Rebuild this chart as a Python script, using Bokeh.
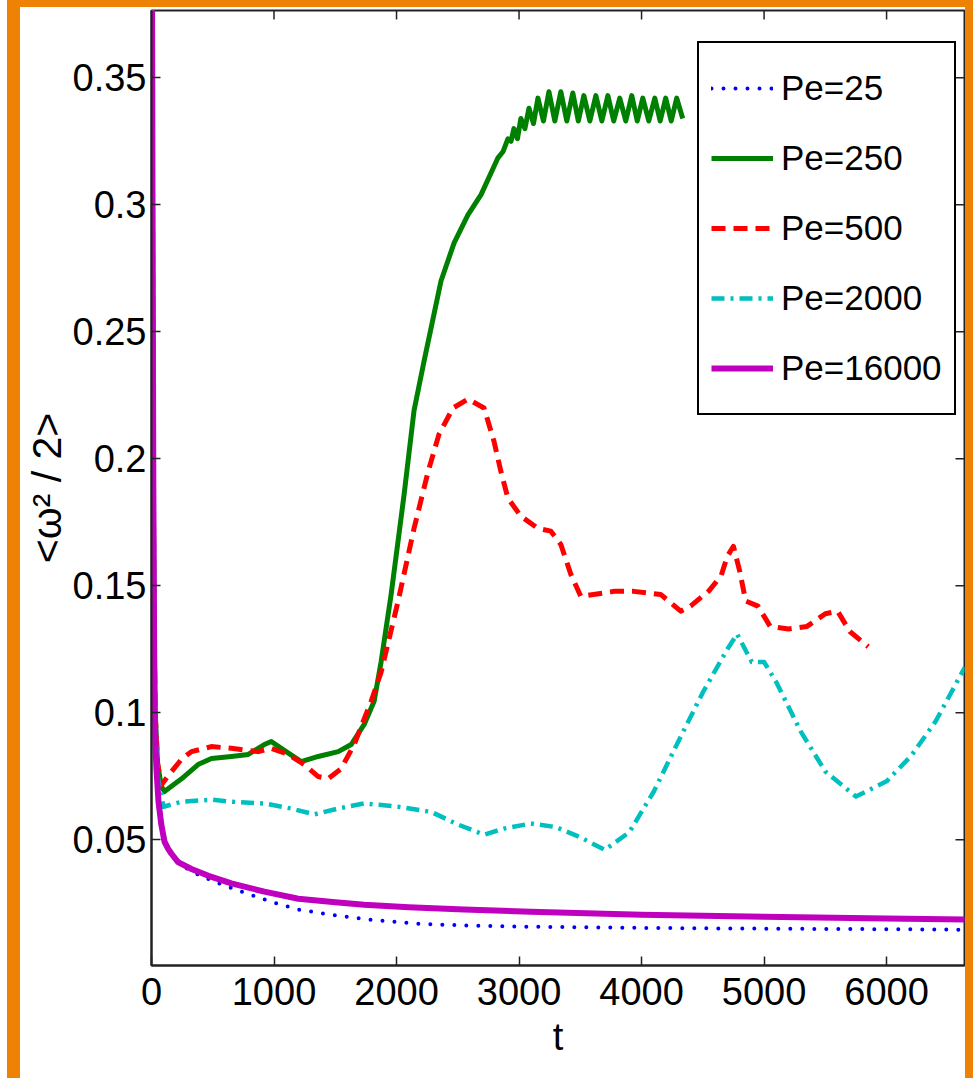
import math
from bokeh.plotting import figure
from bokeh.models import FixedTicker, Range1d, Legend, LegendItem, Spacer
from bokeh.layouts import row, column
from bokeh.embed import file_html
from bokeh.resources import INLINE

# ---------------- data ----------------
X_TICKS = [0, 1000, 2000, 3000, 4000, 5000, 6000]
Y_TICKS = [0.05, 0.1, 0.15, 0.2, 0.25, 0.3, 0.35]
Y_TICK_LABELS = ["0.05", "0.1", "0.15", "0.2", "0.25", "0.3", "0.35"]

t_pe25 = [0, 5, 10, 15, 20, 24, 32, 40, 57, 80, 106, 135, 163, 217, 326, 513, 733,
          978, 1198, 1467, 1793, 2176, 2551, 3040, 4000, 5000, 6000, 6640]
w_pe25 = [0.55, 0.37, 0.27, 0.19, 0.14, 0.1045, 0.088, 0.078, 0.065, 0.056, 0.0493,
          0.0465, 0.0445, 0.041, 0.0375, 0.0335, 0.0296, 0.0256, 0.0225, 0.0205,
          0.0185, 0.0169, 0.0163, 0.0158, 0.0153, 0.015, 0.0148, 0.0146]

t_pe250 = [0, 5, 10, 15, 20, 30, 50, 80, 106, 245, 380, 489, 652, 790, 921, 978,
           1059, 1222, 1361, 1524, 1630, 1736, 1817, 1874, 1956, 2062, 2143, 2225,
           2363, 2470, 2583, 2690, 2828, 2870, 2909, 2935, 2958, 2987, 3015, 3048,
           3081, 3118, 3154, 3199, 3244, 3292, 3341, 3390, 3439, 3484, 3529, 3578,
           3627, 3676, 3725, 3773, 3822, 3871, 3920, 3965, 4010, 4059, 4108, 4152,
           4197, 4242, 4287, 4336]
w_pe250 = [0.55, 0.37, 0.27, 0.19, 0.14, 0.1, 0.08, 0.071, 0.069, 0.074, 0.0796,
           0.082, 0.0828, 0.0836, 0.0875, 0.0887, 0.086, 0.0808, 0.0828, 0.0847,
           0.0875, 0.0954, 0.1045, 0.12, 0.1466, 0.186, 0.219, 0.2385, 0.27, 0.285,
           0.296, 0.304, 0.3185, 0.321, 0.326, 0.325, 0.330, 0.326, 0.334, 0.330,
           0.338, 0.332, 0.342, 0.333, 0.3445, 0.333, 0.3445, 0.333, 0.344, 0.333,
           0.343, 0.333, 0.343, 0.333, 0.343, 0.333, 0.342, 0.333, 0.343, 0.333,
           0.342, 0.333, 0.342, 0.333, 0.342, 0.333, 0.342, 0.334]

t_pe500 = [0, 5, 10, 15, 20, 30, 50, 81, 150, 250, 326, 489, 652, 872, 978, 1117,
           1247, 1361, 1443, 1548, 1654, 1793, 1874, 2013, 2143, 2258, 2347, 2461,
           2583, 2714, 2795, 2852, 2909, 3015, 3154, 3260, 3341, 3423, 3504, 3773,
           3936, 4156, 4320, 4400, 4550, 4650, 4700, 4750, 4800, 4850, 4950, 5050,
           5200, 5350, 5500, 5600, 5700, 5850]
w_pe500 = [0.55, 0.37, 0.27, 0.19, 0.14, 0.1, 0.08, 0.0717, 0.076, 0.082, 0.0847,
           0.0867, 0.086, 0.0847, 0.086, 0.0836, 0.0796, 0.0749, 0.0741, 0.078,
           0.0875, 0.1045, 0.116, 0.144, 0.1726, 0.195, 0.2097, 0.22, 0.2235, 0.22,
           0.207, 0.195, 0.1845, 0.1774, 0.1726, 0.1715, 0.1663, 0.1545, 0.1458,
           0.1478, 0.1478, 0.1466, 0.14, 0.142, 0.148, 0.154, 0.1616, 0.1655, 0.156,
           0.144, 0.142, 0.134, 0.133, 0.134, 0.139, 0.14, 0.132, 0.126]

t_pe2000 = [0, 5, 10, 15, 20, 30, 50, 98, 245, 489, 652, 921, 1141, 1328, 1524, 1736,
            2013, 2282, 2502, 2714, 2877, 3097, 3300, 3500, 3700, 3900, 4100, 4300,
            4500, 4700, 4780, 4900, 5000, 5100, 5300, 5500, 5750, 6000, 6200, 6400,
            6640]
w_pe2000 = [0.55, 0.37, 0.27, 0.19, 0.14, 0.1, 0.075, 0.063, 0.065, 0.0658, 0.065,
            0.0643, 0.0623, 0.060, 0.0623, 0.0643, 0.063, 0.061, 0.056, 0.052, 0.0544,
            0.0564, 0.055, 0.051, 0.046, 0.053, 0.069, 0.0887, 0.108, 0.125, 0.131,
            0.12, 0.12, 0.112, 0.0926, 0.0769, 0.067, 0.073, 0.083, 0.0966, 0.118]

t_pe16000 = [0, 5, 10, 15, 20, 24, 32, 40, 57, 80, 106, 135, 163, 217, 326, 465, 652,
             921, 1198, 1500, 1736, 2100, 2551, 3097, 4000, 5000, 6000, 6640]
w_pe16000 = [0.55, 0.37, 0.27, 0.19, 0.14, 0.1045, 0.088, 0.078, 0.065, 0.056, 0.0493,
             0.0465, 0.0445, 0.0412, 0.0385, 0.0358, 0.0328, 0.0296, 0.0268, 0.0254,
             0.0244, 0.0234, 0.0225, 0.0217, 0.0205, 0.0197, 0.019, 0.0186]

FONT = "Liberation Sans"
ORANGE = "#EE8204"
AXIS_COLOR = "#222222"

x_range = Range1d(0, 6636)
y_range = Range1d(0.0005, 0.3765)

p = figure(width=945, height=1071, x_range=x_range, y_range=y_range,
           output_backend="svg", toolbar_location=None,
           min_border_left=130, min_border_right=1, min_border_top=3, min_border_bottom=113,
           background_fill_color="white", border_fill_color="white",
           outline_line_color=AXIS_COLOR, outline_line_width=2, outline_line_alpha=1.0)
p.xgrid.visible = False
p.ygrid.visible = False

for ax in (p.xaxis[0], p.yaxis[0]):
    ax.major_tick_in = 9
    ax.major_tick_out = 0
    ax.minor_tick_in = 0
    ax.minor_tick_out = 0
    ax.axis_line_width = 2
    ax.axis_line_color = AXIS_COLOR
    ax.major_tick_line_color = AXIS_COLOR
    ax.major_tick_line_width = 1.5
    ax.major_label_text_font = FONT
    ax.major_label_text_font_size = "38px"
    ax.major_label_text_color = "black"
    ax.axis_label_text_font = FONT
    ax.axis_label_text_font_style = "normal"
    ax.axis_label_text_color = "black"

p.xaxis.axis_label_text_font_size = "38px"
p.yaxis.axis_label_text_font_size = "41px"
p.xaxis.ticker = FixedTicker(ticks=X_TICKS)
p.yaxis.ticker = FixedTicker(ticks=Y_TICKS)
p.yaxis.major_label_overrides = dict(zip(Y_TICKS, Y_TICK_LABELS))
p.xaxis.axis_label = "t"
p.yaxis.axis_label = "<ω² / 2>"
p.xaxis.major_label_standoff = 12
p.yaxis.major_label_standoff = 5
p.xaxis.axis_label_standoff = 8
p.yaxis.axis_label_standoff = 0

# inward tick marks on the top and right edges of the box (MATLAB "box on")
p.scatter(X_TICKS, [y_range.end] * len(X_TICKS), marker="dash", angle=math.pi / 2,
          size=18, line_color=AXIS_COLOR, line_width=1.5)
p.scatter([x_range.end] * len(Y_TICKS), Y_TICKS, marker="dash",
          size=18, line_color=AXIS_COLOR, line_width=1.5)

r1 = p.line(t_pe25, w_pe25, line_color="#0000FF", line_width=4, line_dash="0 12", line_cap="round")
r2 = p.line(t_pe250, w_pe250, line_color="#008000", line_width=5, line_join="round")
r3 = p.line(t_pe500, w_pe500, line_color="#FF0000", line_width=5, line_dash="14 8", line_join="round")
r4 = p.line(t_pe2000, w_pe2000, line_color="#00BFBF", line_width=4.5, line_dash="13 6 3 6", line_join="round")
r5 = p.line(t_pe16000, w_pe16000, line_color="#BF00BF", line_width=6, line_join="round")

legend = Legend(items=[LegendItem(label="Pe=25", renderers=[r1]),
                       LegendItem(label="Pe=250", renderers=[r2]),
                       LegendItem(label="Pe=500", renderers=[r3]),
                       LegendItem(label="Pe=2000", renderers=[r4]),
                       LegendItem(label="Pe=16000", renderers=[r5])],
                location=(546, 550), label_text_font=FONT, label_text_font_size="35px",
                label_text_color="black", glyph_width=62, glyph_height=66, label_height=66,
                spacing=4, padding=12, margin=0, label_standoff=8,
                border_line_color="black", border_line_width=2.5, border_line_alpha=1.0,
                background_fill_color="white", background_fill_alpha=1.0)
p.add_layout(legend)


def strip(w, h, color):
    return Spacer(width=w, height=h, styles={"background-color": color})


page = row(strip(7, 1078, "white"),
           column(strip(966, 7, ORANGE),
                  row(strip(13, 1071, ORANGE), p, strip(8, 1071, ORANGE))))

open("out.html", "w").write(file_html(page, INLINE))
